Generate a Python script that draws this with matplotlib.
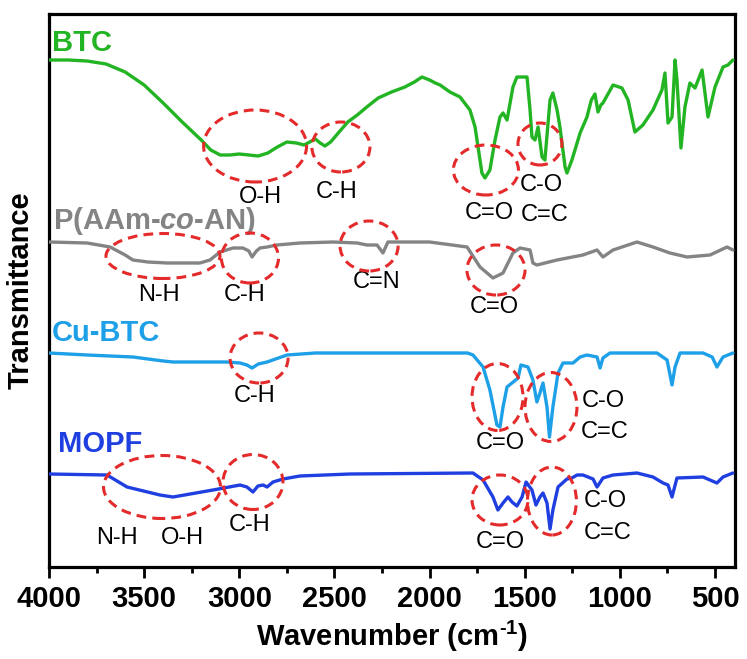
import numpy as np
import matplotlib
matplotlib.use("Agg")
import matplotlib.pyplot as plt
from matplotlib.patches import Ellipse
from matplotlib.ticker import MultipleLocator

plt.rcParams['font.family'] = ['Liberation Sans', 'DejaVu Sans']
plt.rcParams['mathtext.fontset'] = 'custom'
plt.rcParams['mathtext.rm'] = 'Liberation Sans:bold'
plt.rcParams['mathtext.bf'] = 'Liberation Sans:bold'
plt.rcParams['mathtext.it'] = 'Liberation Sans:italic:bold'
plt.rcParams['mathtext.default'] = 'bf'

# ---------------- data (offset transmittance, a.u.) ----------------
btc_wn = [4000, 3900, 3800, 3700, 3600, 3500, 3400, 3300, 3200, 3150, 3100, 3050, 3000, 2950,
          2900, 2850, 2800, 2750, 2700, 2660, 2620, 2600, 2575, 2550, 2520, 2480, 2430, 2380,
          2330, 2270, 2200, 2130, 2080, 2040, 2000, 1970, 1945, 1893, 1840, 1788, 1761, 1725,
          1709, 1683, 1656, 1630, 1614, 1593, 1562, 1541, 1500, 1488, 1472, 1462, 1446, 1430,
          1409, 1394, 1367, 1352, 1330, 1315, 1288, 1278, 1252, 1209, 1173, 1150, 1131, 1115,
          1100, 1089, 1036, 989, 957, 921, 879, 826, 779, 763, 747, 726, 710, 700, 679, 658,
          632, 605, 568, 537, 500, 458, 432, 406]
btc_t = [507, 507, 506, 503, 495, 482, 464, 445, 427, 417, 412, 412, 413, 412,
         411, 414, 420, 425, 424, 422, 426, 428, 424, 421, 425, 434, 445, 452,
         460, 469, 475, 480, 485, 490, 487, 484, 482, 475, 470, 457, 440, 394,
         389, 397, 427, 450, 454, 447, 480, 490, 490, 490, 457, 430, 427, 440,
         410, 407, 467, 474, 457, 440, 400, 394, 407, 434, 450, 467, 473, 455,
         462, 464, 482, 479, 467, 435, 442, 457, 477, 494, 444, 450, 507, 487, 419, 460,
         484, 479, 497, 450, 480, 500, 502, 507]

pam_wn = [4000, 3800, 3679, 3600, 3559, 3480, 3380, 3300, 3207, 3154, 3101, 3033, 2981, 2950,
          2933, 2910, 2891, 2854, 2802, 2681, 2508, 2381, 2329, 2276, 2245, 2219, 2000, 1803,
          1735, 1667, 1614, 1562, 1525, 1472, 1457, 1436, 1330, 1194, 1120, 1089, 1036, 910,
          826, 737, 647, 526, 437, 406]
pam_t = [325, 324, 320, 312, 307, 305, 304, 304, 304, 307, 315, 319, 319, 316,
         310, 316, 319, 320, 322, 324, 325, 324, 322, 322, 314, 325, 325, 320,
         300, 289, 294, 314, 319, 317, 304, 302, 307, 312, 317, 310, 317, 325,
         320, 314, 310, 312, 320, 317]

cu_wn = [4000, 3800, 3559, 3400, 3348, 3065, 2996, 2960, 2933, 2900, 2854, 2749, 2600, 1800,
         1772, 1719, 1683, 1646, 1630, 1614, 1593, 1567, 1535, 1520, 1483, 1457, 1436, 1420,
         1404, 1383, 1370, 1352, 1325, 1299, 1246, 1209, 1173, 1120, 1104, 1089, 1052, 805,
         752, 726, 710, 684, 563, 515, 490, 458, 406]
cu_t = [214, 212, 210, 206, 205, 205, 204, 202, 199, 203, 205, 212, 214, 214,
        212, 200, 177, 142, 140, 160, 180, 184, 189, 202, 200, 187, 165, 174,
        184, 160, 130, 160, 194, 204, 204, 210, 212, 210, 199, 209, 214, 214,
        207, 182, 200, 214, 214, 210, 200, 210, 214]

mopf_wn = [4000, 3695, 3590, 3417, 3348, 3138, 2996, 2960, 2928, 2902, 2875, 2854, 2823, 2770,
           2681, 2418, 1772, 1719, 1667, 1641, 1614, 1588, 1567, 1541, 1514, 1493, 1462, 1441,
           1420, 1404, 1383, 1367, 1352, 1325, 1278, 1252, 1225, 1194, 1141, 1120, 1089, 1036,
           910, 826, 773, 747, 726, 700, 563, 490, 458, 406]
mopf_t = [93, 92, 80, 72, 70, 77, 82, 80, 75, 81, 82, 80, 85, 88,
          91, 93, 94, 87, 70, 57, 64, 70, 65, 61, 70, 85, 77, 62,
          70, 74, 64, 38, 57, 80, 88, 89, 92, 92, 88, 80, 89, 92,
          94, 90, 84, 82, 70, 89, 90, 84, 90, 94]

series_names = ["BTC", "P(AAm-$\\mathit{co}$-AN)", "Cu-BTC", "MOPF"]
series_colors = ["#22b422", "#848484", "#1ea0e8", "#1f3fe0"]

# annotation labels: (text, wavenumber, level)
bond_labels = [
    ("O-H", 2891, 370), ("C-H", 2487, 375), ("C=O", 1688, 354), ("C-O", 1415, 382), ("C=C", 1394, 352),
    ("N-H", 3422, 272), ("C-H", 2970, 272), ("C=N", 2276, 285), ("C=O", 1662, 260),
    ("C-H", 2917, 171), ("C=O", 1630, 124), ("C-O", 1089, 166), ("C=C", 1078, 135),
    ("N-H", 3643, 29), ("O-H", 3301, 29), ("C-H", 2944, 42), ("C=O", 1630, 25),
    ("C-O", 1078, 66), ("C=C", 1062, 34),
]
# highlighted regions: (centre wavenumber, centre level, width in cm-1, height)
regions = [
    (2917, 421, 541, 72), (2466, 420, 305, 50), (1704, 397, 342, 50), (1420, 423, 231, 42),
    (3401, 311, 599, 45), (2944, 309, 300, 50), (2318, 321, 305, 50), (1651, 297, 305, 50),
    (2896, 209, 305, 50), (1643, 170, 268, 67), (1362, 160, 273, 69),
    (3406, 80, 615, 63), (2928, 85, 315, 55), (1630, 67, 294, 50), (1357, 66, 257, 68),
]
name_pos = [(3984, 524), (3979, 346), (3984, 234), (3953, 123)]

# ---------------- figure ----------------
fig = plt.figure(figsize=(7.47, 6.59), dpi=100)
ax = fig.add_axes([49 / 747, 92 / 659, 686 / 747, 553 / 659])

spectra = [(btc_wn, btc_t), (pam_wn, pam_t), (cu_wn, cu_t), (mopf_wn, mopf_t)]
for (wn, t), c in zip(spectra, series_colors):
    ax.plot(wn, t, color=c, lw=2.4, solid_joinstyle='round', solid_capstyle='round', zorder=3)

for (name, (nx, ny)), c in zip(zip(series_names, name_pos), series_colors):
    ax.text(nx, ny, name, color=c, fontsize=21, fontweight='bold', ha='left', va='center', zorder=4)

for cx, cy, w, h in regions:
    ax.add_patch(Ellipse((cx, cy), w, h, fill=False, edgecolor='#e42a2a', lw=2.2,
                         linestyle=(0, (3.2, 2.0)), zorder=5))

for txt, x, y in bond_labels:
    ax.text(x, y, txt, fontsize=17, ha='center', va='center', color='black', zorder=4)

ax.set_xlim(4000, 395)
ax.set_ylim(0, 553)
ax.xaxis.set_major_locator(MultipleLocator(500))
ax.xaxis.set_minor_locator(MultipleLocator(250))
ax.set_yticks([])
for s in ax.spines.values():
    s.set_linewidth(2.3)
ax.tick_params(axis='x', which='major', direction='out', length=8, width=2, pad=5, labelsize=21)
ax.tick_params(axis='x', which='minor', direction='out', length=4.5, width=2)
for lab in ax.get_xticklabels():
    lab.set_fontweight('bold')

ax.set_xlabel('Wavenumber (cm$^{\\text{-1}}$)', fontsize=21, fontweight='bold', labelpad=4)
ax.set_ylabel('Transmittance', fontsize=21, fontweight='bold', labelpad=10)

fig.savefig('out.png', dpi=100)
